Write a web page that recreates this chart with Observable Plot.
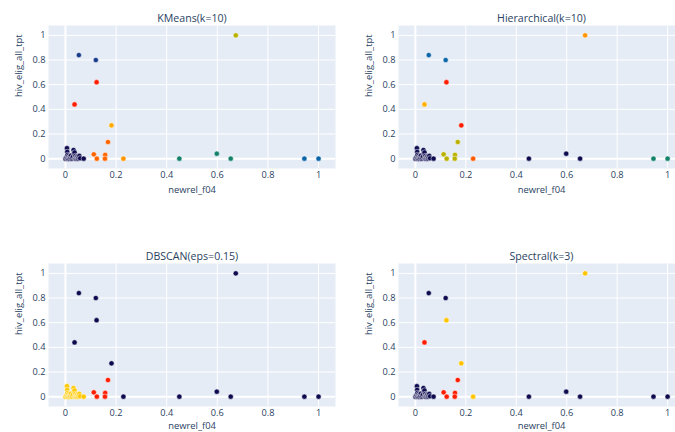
<!DOCTYPE html>
<html><head><meta charset="utf-8">
<script src="https://cdn.jsdelivr.net/npm/d3@7"></script>
<script src="https://cdn.jsdelivr.net/npm/@observablehq/plot@0.6"></script>
<style>
body{margin:0;background:#fff;}
#fig{position:relative;width:675px;height:432px;overflow:hidden;font-family:"Open Sans",sans-serif;}
.panel{position:absolute;}
.panel svg{overflow:visible;background:transparent;max-width:none !important;}
</style></head>
<body><div id="fig"></div>
<script>
// Points (newrel_f04, hiv_elig_all_tpt): 30 near-origin points, then 17 scattered points
const xs = [0.000,0.003,0.005,0.006,0.007,0.008,0.010,0.012,0.014,0.016,0.018,0.020,0.022,0.025,0.027,0.030,0.032,0.034,0.036,0.037,0.039,0.041,0.043,0.045,0.048,0.050,0.052,0.055,0.058,0.072,
            0.053,0.120,0.123,0.036,0.182,0.168,0.112,0.124,0.157,0.156,0.229,0.450,0.598,0.653,0.673,0.944,1.000];
const ys = [0.000,0.005,0.012,0.085,0.055,0.030,0.000,0.020,0.008,0.000,0.015,0.004,0.025,0.000,0.010,0.018,0.070,0.040,0.050,0.005,0.022,0.000,0.012,0.006,0.018,0.000,0.010,0.022,0.003,0.000,
            0.840,0.800,0.620,0.440,0.270,0.135,0.035,0.000,0.030,0.000,0.000,0.000,0.040,0.000,1.000,0.000,0.000];

// Cluster labels per method
const kmeansLabels = [0,0,0,0,0,0,0,0,0,0,0,0,0,0,0,0,0,0,0,0,0,0,0,0,0,0,0,0,0,0,
                      1,1,2,2,3,4,4,4,4,4,5,6,6,6,7,8,8];
const hierLabels   = [0,0,0,0,0,0,0,0,0,0,0,0,0,0,0,0,0,0,0,0,0,0,0,0,0,0,0,0,0,0,
                      1,1,2,3,2,4,4,4,4,4,5,0,0,0,6,7,7];
const dbscanLabels = [1,1,1,1,1,1,1,1,1,1,1,1,1,1,1,1,1,1,1,1,1,1,1,1,1,1,1,1,1,1,
                      0,0,0,0,0,2,2,2,2,2,0,0,0,0,0,0,0];
const spectralLabels = [0,0,0,0,0,0,0,0,0,0,0,0,0,0,0,0,0,0,0,0,0,0,0,0,0,0,0,0,0,0,
                      0,0,1,2,1,2,2,2,2,2,1,0,0,0,1,0,0];

const kmeansColors   = ["#0d0a4f","#173a8a","#ff1d00","#ffaa00","#ff6400","#ff9600","#13826a","#b9b100","#0a64a8"];
const hierColors     = ["#0d0a4f","#0a64a8","#ff1d00","#ffb000","#b9b100","#ff5a00","#ff9600","#13826a"];
const dbscanColors   = ["#0d0a4f","#ffc800","#ff1d00"];
const spectralColors = ["#0d0a4f","#ffc400","#ff1d00"];

const titles = ["KMeans(k=10)","Hierarchical(k=10)","DBSCAN(eps=0.15)","Spectral(k=3)"];
const xTicks = [0,0.2,0.4,0.6,0.8,1];
const yTicks = [0,0.2,0.4,0.6,0.8,1];
const xLabel = "newrel_f04";
const yLabel = "hiv_elig_all_tpt";
const ink = "#2a3f5f";

function panel(title, labels, colors, left, top, width, mLeft, xLabelDy) {
  const data = xs.map((x, i) => ({x, y: ys[i], c: labels[i]}));
  const chart = Plot.plot({
    width, height: 200,
    marginLeft: mLeft, marginRight: 3, marginTop: 25, marginBottom: 32,
    style: {fontFamily: '"Open Sans", sans-serif', background: "transparent", overflow: "visible"},
    x: {domain: [-0.067, 1.067], axis: null},
    y: {domain: [-0.08, 1.08], axis: null},
    color: {type: "ordinal", domain: colors.map((_, i) => i), range: colors},
    marks: [
      Plot.frame({fill: "#e5ecf6", stroke: null}),
      Plot.gridX(xTicks, {stroke: "white", strokeOpacity: 1, strokeWidth: 1}),
      Plot.gridY(yTicks, {stroke: "white", strokeOpacity: 1, strokeWidth: 1}),
      Plot.ruleX([0], {stroke: "white", strokeWidth: 2}),
      Plot.ruleY([0], {stroke: "white", strokeWidth: 2}),
      Plot.axisX({ticks: xTicks, tickSize: 0, tickPadding: 3, tickFormat: "~g", fontSize: 9.2, fill: ink, label: null}),
      Plot.axisY({ticks: yTicks, tickSize: 0, tickPadding: 3, tickFormat: "~g", fontSize: 9.2, fill: ink, label: null}),
      Plot.dot(data, {x: "x", y: "y", fill: "c", r: 2.6, stroke: "white", strokeWidth: 0.5}),
      Plot.text([title], {frameAnchor: "top", dy: -7, fontSize: 10.6, fill: ink, lineAnchor: "middle"}),
      Plot.text([xLabel], {frameAnchor: "bottom", dy: xLabelDy, fontSize: 9.4, fill: ink, lineAnchor: "middle"}),
      Plot.text([yLabel], {frameAnchor: "left", dx: -30, rotate: -90, fontSize: 9.4, fill: ink, lineAnchor: "middle"})
    ]
  });
  const div = document.createElement("div");
  div.className = "panel";
  div.style.left = left + "px";
  div.style.top = top + "px";
  div.style.width = width + "px";
  div.style.height = "200px";
  div.appendChild(chart);
  document.getElementById("fig").appendChild(div);
}

panel(titles[0], kmeansLabels, kmeansColors, 0, 0, 338, 48, 21);
panel(titles[1], hierLabels, hierColors, 337, 0, 350, 61, 21);
panel(titles[2], dbscanLabels, dbscanColors, 0, 238, 338, 48, 19);
panel(titles[3], spectralLabels, spectralColors, 337, 238, 350, 61, 19);
</script>
</body></html>
